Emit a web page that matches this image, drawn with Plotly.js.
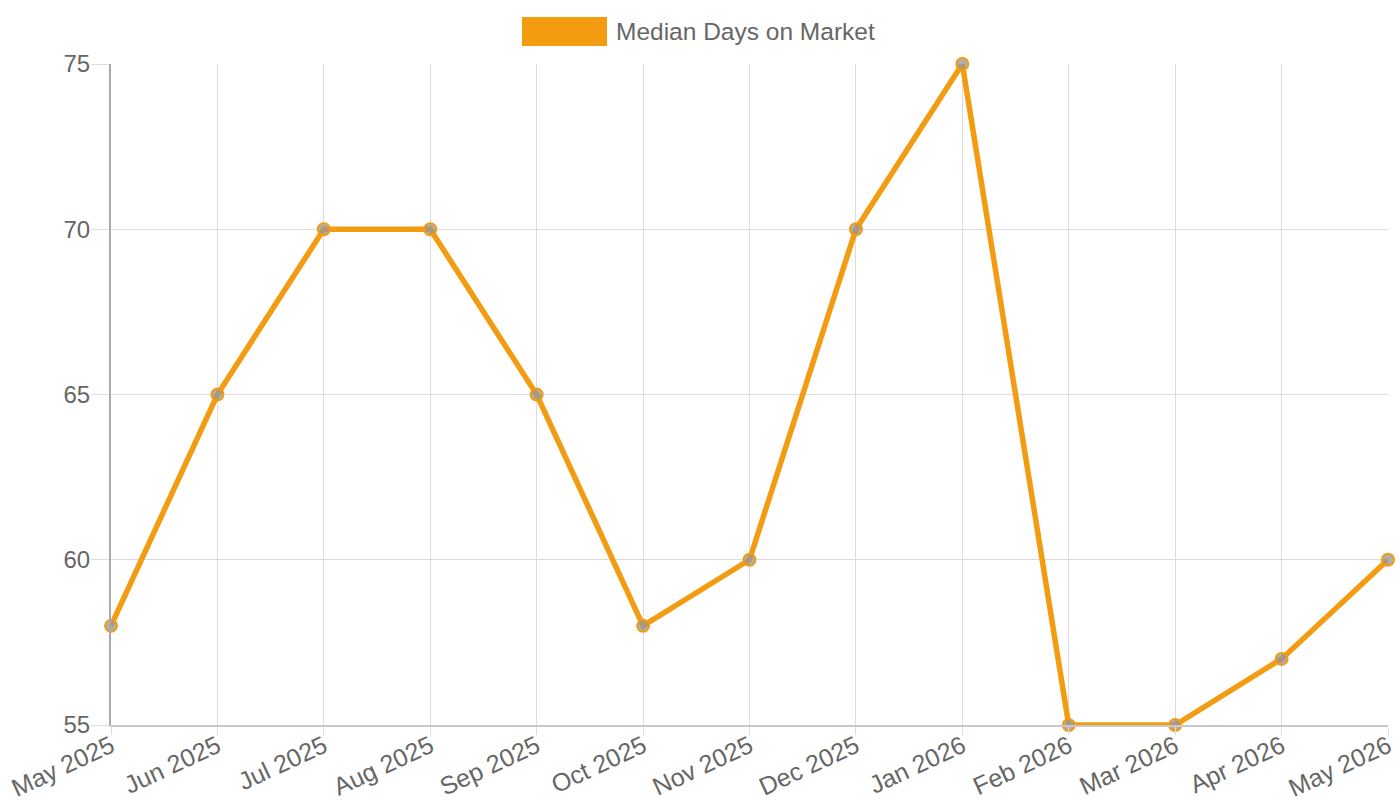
<!DOCTYPE html>
<html>
<head>
<meta charset="utf-8">
<script src="https://cdn.plot.ly/plotly-3.0.1.min.js"></script>
<style>
  html, body { margin: 0; padding: 0; background: #fff; }
  #chart { width: 1400px; height: 800px; }
</style>
</head>
<body>
<div id="chart"></div>
<script>
const months = ['May 2025', 'Jun 2025', 'Jul 2025', 'Aug 2025', 'Sep 2025', 'Oct 2025',
    'Nov 2025', 'Dec 2025', 'Jan 2026', 'Feb 2026', 'Mar 2026', 'Apr 2026', 'May 2026']
const medianDays = [58, 65, 70, 70, 65, 58, 60, 70, 75, 55, 55, 57, 60]
const seriesName = 'Median Days on Market'
const yTicks = [55, 60, 65, 70, 75]

const orange = '#f39c12'
const textColor = '#666'
const font = 'Liberation Sans, Arial, sans-serif'

const trace = {
    type: 'scatter',
    mode: 'lines+markers',
    x: months,
    y: medianDays,
    name: seriesName,
    showlegend: false,
    line: { color: orange, width: 5.5 },
    marker: {
        size: 12,
        color: 'rgba(150,150,150,0.75)',
        line: { color: orange, width: 2 }
    },
    cliponaxis: false
}

Plotly.newPlot('chart', [trace], {
    width: 1400,
    height: 800,
    margin: { t: 64, r: 12, b: 75, l: 111 },
    paper_bgcolor: '#fff',
    plot_bgcolor: '#fff',
    font: { family: font, color: textColor, size: 24 },
    showlegend: false,
    xaxis: {
        type: 'category',
        range: [0, months.length - 1],
        tickangle: -25,
        ticks: 'outside',
        ticklen: 8,
        tickcolor: '#dcdcdc',
        tickwidth: 1,
        showgrid: true,
        gridcolor: '#dcdcdc',
        showline: true,
        linecolor: '#c8c8c8',
        linewidth: 2,
        zeroline: false,
        ticklabelstandoff: -13,
        tickfont: { size: 25, color: textColor },
        automargin: false
    },
    yaxis: {
        range: [55, 75],
        tickvals: yTicks,
        ticks: 'outside',
        ticklen: 18,
        tickcolor: '#dcdcdc',
        tickwidth: 1,
        showgrid: true,
        gridcolor: '#dcdcdc',
        showline: true,
        linecolor: '#aaaaaa',
        linewidth: 2,
        zeroline: false,
        ticklabelstandoff: -4,
        tickfont: { size: 24, color: textColor },
        automargin: false
    },
    // chart.js style legend: wide filled box + label
    shapes: [{
        type: 'rect', xref: 'paper', yref: 'paper',
        x0: (522 - 111) / 1277, x1: (607 - 111) / 1277,
        y0: (725 - 46) / 661, y1: (725 - 17) / 661,
        fillcolor: orange, line: { width: 0 }
    }],
    annotations: [{
        xref: 'paper', yref: 'paper',
        x: (614 - 111) / 1277, y: (725 - 31.5) / 661,
        xanchor: 'left', yanchor: 'middle',
        text: seriesName, showarrow: false,
        font: { size: 24.5, color: textColor }
    }]
}, { displayModeBar: false })
</script>
</body>
</html>
